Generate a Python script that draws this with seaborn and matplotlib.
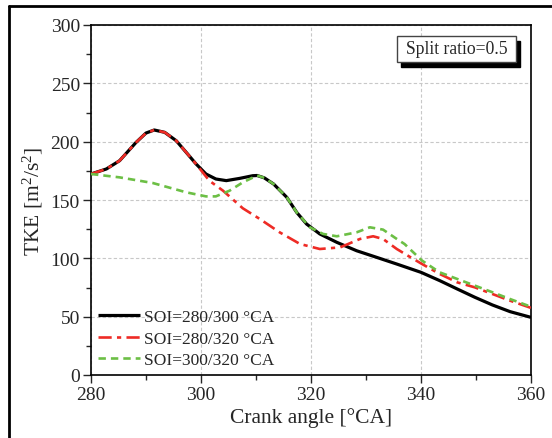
import numpy as np
import pandas as pd
import matplotlib
matplotlib.use("Agg")
import matplotlib.pyplot as plt
import seaborn as sns
from matplotlib.patches import Rectangle
from matplotlib.lines import Line2D

# ---- data ----
x_a = [280, 282.8, 285.2, 288.2, 290.0, 291.5, 293.4, 295.5, 297.3, 299.1, 300.9, 302.7,
       304.6, 307.0, 309.4, 310.2, 311.5, 313.2, 315.6, 317.4, 319.2, 321.6, 324.7,
       328.3, 331.9, 335.6, 340.0, 343.4, 346.6, 349.8, 353.0, 356.2, 360.0]
y_a = [172.3, 176.6, 183.7, 199.4, 207.4, 210.0, 208.0, 200.8, 190.9, 180.9, 172.3, 168.0,
       166.6, 168.5, 170.8, 171.0, 169.0, 163.7, 152.3, 139.4, 129.4, 120.9, 113.7,
       106.5, 100.9, 95.1, 88.0, 80.9, 73.7, 66.6, 60.0, 54.3, 49.4]

x_b = [280, 282.8, 285.2, 288.2, 290.0, 291.5, 293.4, 295.5, 297.3, 299.1, 301.5, 304.0,
       307.6, 310.7, 314.3, 318.0, 321.6, 325.3, 328.9, 331.3, 333.1, 335.6, 337.6,
       340.2, 343.4, 346.6, 349.8, 353.0, 356.2, 360.0]
y_b = [172.3, 176.6, 183.7, 199.4, 207.4, 210.0, 208.0, 200.8, 190.9, 180.9, 166.6, 158.0,
       142.9, 133.7, 122.3, 112.3, 108.0, 109.4, 116.6, 118.9, 116.6, 108.0, 102.3,
       95.1, 86.6, 79.4, 75.1, 69.4, 63.7, 57.5]

x_c = [280, 285.2, 291.2, 297.3, 300.9, 302.7, 305.2, 307.6, 310.2, 311.5, 313.2, 315.6,
       317.4, 319.8, 322.2, 324.7, 328.3, 330.7, 333.1, 335.6, 337.0, 340.2, 343.4,
       346.6, 349.8, 353.0, 356.2, 360.0]
y_c = [172.3, 169.4, 164.6, 156.6, 153.1, 153.1, 158.0, 165.1, 171.0, 169.0, 163.7, 152.3,
       139.4, 126.6, 120.9, 118.9, 122.3, 126.6, 124.6, 116.6, 112.3, 98.0, 88.0,
       82.3, 76.6, 70.9, 65.1, 58.5]

labels = ["SOI=280/300 \u00b0CA", "SOI=280/320 \u00b0CA", "SOI=300/320 \u00b0CA"]
colors = ["#000000", "#ee2b25", "#6cbf45"]

x_ticks = [280, 300, 320, 340, 360]
y_ticks = [0, 50, 100, 150, 200, 250, 300]

sns.set_style("ticks")
plt.rcParams["font.family"] = ["Liberation Serif", "DejaVu Serif"]
plt.rcParams["mathtext.fontset"] = "custom"
plt.rcParams["mathtext.rm"] = "Liberation Serif"
plt.rcParams["mathtext.it"] = "Liberation Serif:italic"

fig = plt.figure(figsize=(5.52, 4.39), dpi=100)
W, H = 552, 439
ax = fig.add_axes([91 / W, 1 - 376 / H, 440 / W, 350 / H])

df = pd.concat([
    pd.DataFrame({"x": x_a, "y": y_a, "s": labels[0]}),
    pd.DataFrame({"x": x_b, "y": y_b, "s": labels[1]}),
    pd.DataFrame({"x": x_c, "y": y_c, "s": labels[2]}),
])

styles = [dict(lw=2.3, dashes=None), dict(lw=1.9, dashes=(5, 2, 1.6, 2)), dict(lw=1.9, dashes=(2.8, 1.9))]
for lab, col, st in zip(labels, colors, styles):
    sub = df[df["s"] == lab]
    sns.lineplot(x="x", y="y", data=sub, color=col, linewidth=st["lw"], ax=ax,
                 sort=False, estimator=None, label=lab, zorder=3)
    ln = ax.get_lines()[-1]
    if st["dashes"] is not None:
        ln.set_dashes(st["dashes"])
    ln.set_solid_capstyle("butt")
    ln.set_dash_capstyle("butt")
    ln.set_solid_joinstyle("round")
    ln.set_dash_joinstyle("round")

ax.set_xlim(280, 360)
ax.set_ylim(0, 300)
ax.set_xticks(x_ticks)
ax.set_yticks(y_ticks)
ax.set_xticks(np.arange(290, 360, 20), minor=True)
ax.set_yticks(np.arange(25, 300, 50), minor=True)
ax.tick_params(which="major", direction="out", length=6, width=1.0, labelsize=14, pad=2,
               top=False, right=False)
ax.tick_params(which="minor", direction="out", length=3.5, width=1.0, top=False, right=False)
ax.grid(True, which="major", color="#c8c8c8", linestyle=(0, (3, 2)), linewidth=0.8, zorder=0)
for sp in ax.spines.values():
    sp.set_linewidth(1.2)
    sp.set_color("black")

ax.set_xlabel("Crank angle [\u00b0CA]", fontsize=15.5, labelpad=3)
ax.set_ylabel("TKE [m$^2$/s$^2$]", fontsize=15.5, labelpad=4)

leg = ax.legend(loc="lower left", bbox_to_anchor=(0, 0), frameon=False, fontsize=12.5,
                handlelength=2.4, handletextpad=0.23, labelspacing=0.3,
                borderaxespad=0.1, borderpad=0.3)

# "Split ratio" box with shadow (figure pixel coordinates)
bx0, by0, bx1, by1 = 397, 37, 516, 63
fig.patches.append(Rectangle(((bx0 + 4) / W, 1 - (by1 + 5) / H), (bx1 - bx0) / W, (by1 - by0) / H,
                             transform=fig.transFigure, facecolor="black", edgecolor="black",
                             zorder=5))
fig.patches.append(Rectangle((bx0 / W, 1 - by1 / H), (bx1 - bx0) / W, (by1 - by0) / H,
                             transform=fig.transFigure, facecolor="white", edgecolor="#444444",
                             linewidth=1.0, zorder=6))
fig.text((bx0 + bx1) / 2 / W, 1 - (by0 + by1) / 2 / H, "Split ratio=0.5", ha="center", va="center",
         fontsize=12.7, zorder=7)

# outer frame (top and left visible)
fig.lines.append(Line2D([9 / W, 1.0], [1 - 7 / H, 1 - 7 / H], transform=fig.transFigure,
                        color="black", linewidth=2.0))
fig.lines.append(Line2D([9 / W, 9 / W], [0, 1 - 7 / H], transform=fig.transFigure,
                        color="black", linewidth=2.0))

fig.savefig("out.png", dpi=100)
